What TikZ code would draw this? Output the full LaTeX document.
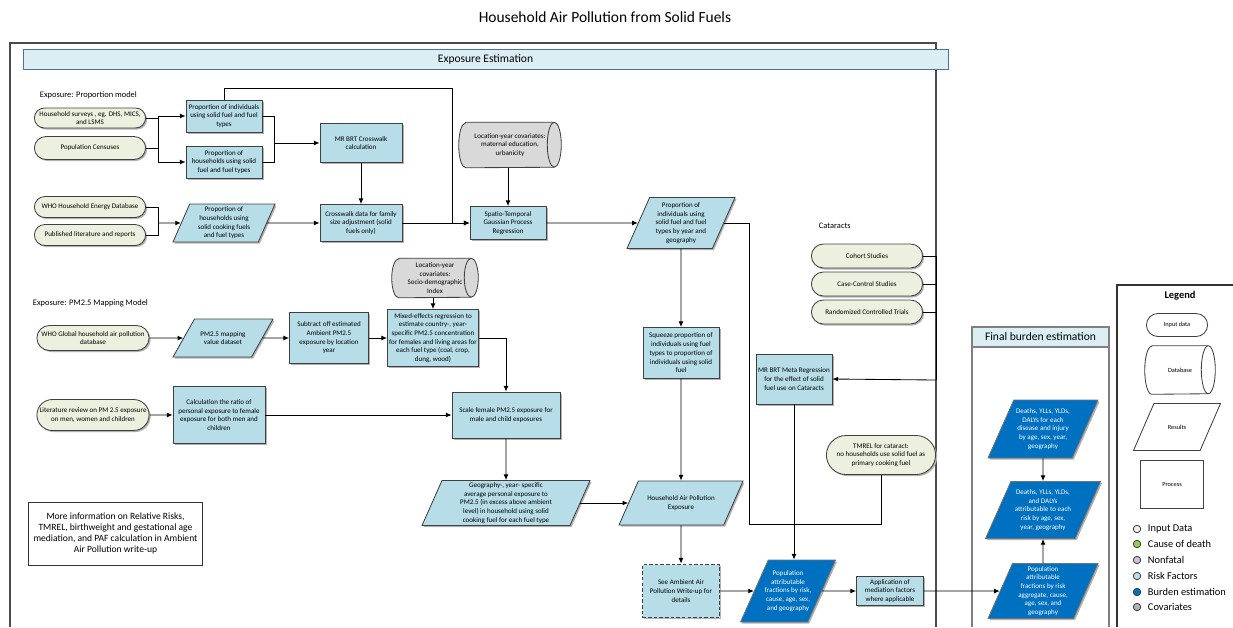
\documentclass[tikz,border=0pt]{standalone}
\usepackage{fontspec}
\setmainfont{Carlito}
\usetikzlibrary{arrows.meta,shapes.geometric,shapes.misc,shadows,backgrounds}

\definecolor{inpc}{HTML}{EBF1DE}
\definecolor{procc}{HTML}{B7DEE8}
\definecolor{burdc}{HTML}{0070C0}
\definecolor{covc}{HTML}{D9D9D9}
\definecolor{hdrc}{HTML}{DAEEF3}
\definecolor{hdrl}{HTML}{4F6F9F}
\definecolor{causec}{HTML}{92D050}
\definecolor{nfc}{HTML}{CCC0DA}
\newdimen\px \px=0.025cm
\newcommand{\boxfont}{\fontsize{5}{6.2}\selectfont}
% drum outline round a node: #1 node, #2 half height, #3 fill
\newcommand{\drum}[3]{%
  \path[draw=black!75,line width=0.6pt,fill=#3]
    ([xshift=0.175cm]#1.north west) -- ([xshift=-0.175cm]#1.north east)
    arc[start angle=90,end angle=-90,x radius=0.175cm,y radius=#2]
    -- ([xshift=0.175cm]#1.south west)
    arc[start angle=270,end angle=90,x radius=0.175cm,y radius=#2] -- cycle;
  \path[draw=black!75,line width=0.6pt]
    ([xshift=-0.175cm]#1.north east) arc[start angle=90,end angle=270,x radius=0.175cm,y radius=#2];}

\begin{document}
\begin{tikzpicture}[x=0.025cm,y=-0.025cm,>={Latex[length=4pt,width=3.4pt]}]
\tikzset{bw/.style={minimum width=#1*\px},bh/.style={minimum height=#1*\px},ys/.style={inner ysep=#1}}
\tikzstyle{sdw}=[drop shadow={shadow xshift=1.1pt,shadow yshift=-1.1pt,fill=black!30,opacity=1}]
\tikzstyle{bx}=[draw=black!75,line width=0.6pt,inner sep=1pt,align=center,font=\boxfont]
\tikzstyle{inp}=[bx,rounded rectangle,fill=inpc,sdw]
\tikzstyle{proc}=[bx,rectangle,fill=procc,sdw]
\tikzstyle{pshape}=[trapezium,trapezium left angle=65,trapezium right angle=115,trapezium stretches body,inner xsep=-10pt]
\tikzstyle{para}=[bx,pshape,fill=procc,sdw]
\tikzstyle{burd}=[bx,pshape,fill=burdc,text=white,draw=black!55,sdw]
\tikzstyle{dbt}=[rectangle,inner sep=1pt,align=center,font=\boxfont]
\tikzstyle{ln}=[line width=0.6pt]
\tikzstyle{lc}=[draw=black!75,line width=0.6pt,circle,minimum size=7.5*\px,inner sep=0pt]
\tikzstyle{lt}=[anchor=west,font=\fontsize{7.4}{8.4}\selectfont]
\useasboundingbox (0,0) rectangle (1233,627);

% title and frames
\draw (605,17) node (title) [font=\fontsize{11}{13}\selectfont] {Household Air Pollution from Solid Fuels};
\draw [line width=1pt,black!70] (10,627) -- (10,43) -- (936,43) -- (936,627);
\draw (485.5,59.5) node (hdr) [draw=hdrl,line width=0.6pt,fill=hdrc,bw=925,bh=17,font=\fontsize{8.2}{9.5}\selectfont] {Exposure Estimation};
\draw [line width=1pt,black!50] (972,627) -- (972,327) -- (1109,327) -- (1109,627);
\draw (1040.5,337) node (fbe) [draw=black!50,line width=0.8pt,fill=hdrc,bw=137,bh=20,font=\fontsize{8.2}{9.5}\selectfont] {Final burden estimation};
\draw [line width=0.8pt,black!80] (1117,627) -- (1117,285) -- (1233,285);

% proportion model
\draw (35,95) node (lblA) [anchor=west,font=\fontsize{6}{7}\selectfont] {Exposure: Proportion model};
\draw (90,118) node (hs) [inp,bw=114,bh=20] {Household surveys , eg. DHS, MICS,\\ and LSMS};
\draw (90,148) node (pc) [inp,bw=114,bh=23] {Population Censuses};
\draw (90,207) node (hed) [inp,bw=114,bh=21] {WHO Household Energy Database};
\draw (90,235) node (pl) [inp,bw=114,bh=21] {Published literature and reports};
\draw (224,116) node (pi) [proc,bw=76,bh=32] {Proportion of individuals\\ using solid fuel and fuel\\ types};
\draw (224,162) node (ph) [proc,bw=76,bh=32] {Proportion of\\ households using solid\\ fuel and fuel types};
\draw (361,143) node (mrbrt) [proc,bw=82,bh=39] {MR BRT Crosswalk\\ calculation};
\draw (224,223) node (phc) [para,bw=102,bh=38,ys=1.3pt] {Proportion of\\ households using\\ solid cooking fuels\\ and fuel types};
\draw (361,223) node (cw) [proc,bw=82,bh=37] {Crosswalk data for family\\ size adjustment (solid\\ fuels only)};
\draw (510,145) node (lyc) [dbt,bw=102,bh=45] {Location-year covariates:\\ maternal education,\\ urbanicity};
\draw (508,223) node (stgpr) [proc,bw=76,bh=33] {Spatio-Temporal\\ Gaussian Process\\ Regression};
\draw (681,223) node (piy) [para,bw=108,bh=51,ys=2.7pt] {Proportion of\\ individuals using\\ solid fuel and fuel\\ types by year and\\ geography};
\draw (681,353) node (sq) [proc,bw=76,bh=51] {Squeeze proportion of\\ individuals using fuel\\ types to proportion of\\ individuals using solid\\ fuel};

\coordinate (j1) at (158,140);
\coordinate (j2) at (274,143);
\coordinate (j3) at (158,223);
\coordinate (j4) at (452,88);
\path [draw,ln] (hs.east) -| (j1) ;
\path [draw,ln] (pc.east) -| (j1) ;
\path [draw,ln,->] (j1) |- (pi.west) ;
\path [draw,ln,->] (j1) |- (ph.west) ;
\path [draw,ln] (pi.east) -| (j2) ;
\path [draw,ln] (ph.east) -| (j2) ;
\path [draw,ln,->] (j2) -- (mrbrt.west) ;
\path [draw,ln,->] (mrbrt) -- (cw) ;
\path [draw,ln] (hed.east) -| (j3) ;
\path [draw,ln] (pl.east) -| (j3) ;
\path [draw,ln,->] (j3) -- (phc.west) ;
\path [draw,ln,->] (phc.east) -- (cw.west) ;
\path [draw,ln,->] (pi.north) |- (j4) |- (stgpr.west) ;
\path [draw,ln,->] (cw.east) -- (stgpr.west) ;
\path [draw,ln,->] (lyc.south -| stgpr.north) -- (stgpr.north) ;
\path [draw,ln,->] (stgpr.east) -- (piy.west) ;
\path [draw,ln,->] (piy) -- (sq) ;

% PM2.5 mapping model
\draw (28,303) node (lblB) [anchor=west,font=\fontsize{6}{7}\selectfont] {Exposure: PM2.5 Mapping Model};
\draw (93,338) node (who) [inp,bw=115,bh=25] {WHO Global household air pollution\\ database};
\draw (223,338) node (pm) [para,bw=100,bh=38,ys=7.4pt,trapezium left angle=58,trapezium right angle=122] {PM2.5 mapping\\ value dataset};
\draw (329,338) node (sub) [proc,bw=79,bh=51] {Subtract off estimated\\ Ambient PM2.5\\ exposure by location\\ year};
\draw (435,278) node (lyc2) [dbt,bw=86,bh=39] {Location-year\\ covariates:\\ Socio-demographic\\ Index};
\draw (433,338) node (mix) [proc,bw=91,bh=57] {Mixed-effects regression to\\ estimate country-, year-\\ specific PM2.5 concentration\\ for females and living areas for\\ each fuel type (coal, crop,\\ dung, wood)};
\draw (93,415) node (lit) [inp,bw=115,bh=31] {Literature review on PM 2.5 exposure\\ on men, women and children};
\draw (219,415) node (calc) [proc,bw=92,bh=57] {Calculation the ratio of\\ personal exposure to female\\ exposure for both men and\\ children};
\draw (506,415) node (scale) [proc,bw=108,bh=46] {Scale female PM2.5 exposure for\\ male and child exposures};
\draw (506,503) node (geo) [para,bw=168,bh=45,ys=0.7pt] {Geography-, year- specific\\ average personal exposure to\\ PM2.5 (in excess above ambient\\ level) in household using solid\\ cooking fuel for each fuel type};
\draw (681,503) node (hap) [para,bw=124,bh=44,ys=9.5pt] {Household Air Pollution\\ Exposure};
\draw (681,591) node (see) [proc,bw=77,bh=53,line width=1.3pt,dash pattern=on 2.5pt off 1.5pt] {See Ambient Air\\ Pollution Write-up for\\ details};

\path [draw,ln,->] (who) -- (pm) ;
\path [draw,ln,->] (pm) -- (sub) ;
\path [draw,ln,->] (sub) -- (mix) ;
\path [draw,ln,->] (lyc2.south -| mix.north) -- (mix.north) ;
\path [draw,ln,->] (mix.east) -| (scale.north) ;
\path [draw,ln,->] (lit) -- (calc) ;
\path [draw,ln,->] (calc) -- (scale) ;
\path [draw,ln,->] (scale) -- (geo) ;
\path [draw,ln,->] (geo.east) -- (hap.west) ;
\path [draw,ln,->] (sq) -- (hap) ;
\path [draw,ln,->] (hap) -- (see) ;

% cataracts and PAF
\draw (814,226) node (lblC) [anchor=west,font=\fontsize{6}{7}\selectfont] {Cataracts};
\draw (867,256) node (coh) [inp,bw=114,bh=24] {Cohort Studies};
\draw (867,284) node (cc) [inp,bw=114,bh=24] {Case-Control Studies};
\draw (867,312) node (rct) [inp,bw=114,bh=24] {Randomized Controlled Trials};
\draw (794,379) node (meta) [proc,bw=76,bh=50] {MR BRT Meta Regression\\ for the effect of solid\\ fuel use on Cataracts};
\draw (881,455) node (tmrel) [inp,bw=112,bh=39] {TMREL for cataract:\\ no households use solid fuel as\\ primary cooking fuel};
\draw (788,591) node (paf) [burd,bw=95,bh=62,ys=6.6pt] {Population\\ attributable\\ fractions by risk,\\ cause, age, sex,\\ and geography};
\draw (890,591) node (app) [proc,bw=67,bh=29] {Application of\\ mediation factors\\ where applicable};

\coordinate (j5) at (749,524);
\coordinate (j6) at (936,380);
\path [draw,ln] (piy.east) -| (j5) -| (tmrel.south) ;
\path [draw,ln] (coh.east) -| (j6) ;
\path [draw,ln] (cc.east) -| (j6) ;
\path [draw,ln] (rct.east) -| (j6) ;
\path [draw,ln,->] (j6) -- (meta.east) ;
\path [draw,ln,->] (meta.south) -- (meta.south |- paf.north) ;
\path [draw,ln,->] (see.east) -- (paf.west) ;
\path [draw,ln,->] (paf.east) -- (app.west) ;

% final burden
\draw (1043,429) node (d1) [burd,bw=110,bh=58,ys=5.1pt] {Deaths, YLLs, YLDs,\\ DALYs for each\\ disease and injury\\ by age, sex, year,\\ geography};
\draw (1043,510) node (d2) [burd,bw=115,bh=57,ys=4.8pt] {Deaths, YLLs, YLDs,\\ and DALYs\\ attributable to each\\ risk by age, sex,\\ year, geography};
\draw (1043,591) node (paf2) [burd,bw=110,bh=55,ys=1pt] {Population\\ attributable\\ fractions by risk\\ aggregate, cause,\\ age, sex, and\\ geography};
\path [draw,ln,->] (app.east) -- (paf2.west) ;
\path [draw,ln,->] (d1) -- (d2) ;
\path [draw,ln,->] (paf2) -- (d2) ;

% note
\draw (115.5,533.5) node (more) [draw=black!80,line width=0.6pt,bw=173,bh=63,align=center,font=\fontsize{6.8}{8}\selectfont] {More information on Relative Risks,\\ TMREL, birthweight and gestational age\\ mediation, and PAF calculation in Ambient\\ Air Pollution write-up};

% legend
\draw (1180,296) node (leg) [font=\fontsize{7.4}{8.4}\selectfont\bfseries] {Legend};
\draw (1177,325) node (lin) [bx,rounded rectangle,bw=64,bh=23,font=\fontsize{4.5}{5.5}\selectfont] {Input data};
\draw (1180,370) node (ldb) [dbt,bw=70,bh=48,font=\fontsize{4.5}{5.5}\selectfont] {Database};
\draw (1177,427) node (lres) [bx,pshape,bw=87,bh=47,ys=14pt,font=\fontsize{4.5}{5.5}\selectfont] {Results};
\draw (1172,484) node (lproc) [bx,bw=63,bh=48,font=\fontsize{4.5}{5.5}\selectfont] {Process};
\draw (1137,529) node (c1) [lc,fill=inpc] {};
\draw (1137,544) node (c2) [lc,fill=causec] {};
\draw (1137,560) node (c3) [lc,fill=nfc] {};
\draw (1137,576) node (c4) [lc,fill=procc] {};
\draw (1137,592) node (c5) [lc,fill=burdc] {};
\draw (1137,607) node (c6) [lc,fill=black!30] {};
\draw (1143,529) node (t1) [lt] {Input Data};
\draw (1143,544) node (t2) [lt] {Cause of death};
\draw (1143,560) node (t3) [lt] {Nonfatal};
\draw (1143,576) node (t4) [lt] {Risk Factors};
\draw (1143,592) node (t5) [lt] {Burden estimation};
\draw (1143,607) node (t6) [lt] {Covariates};

% drums behind the database nodes
\begin{scope}[on background layer]
\drum{lyc}{0.5625cm}{covc}
\drum{lyc2}{0.4875cm}{covc}
\drum{ldb}{0.6cm}{white}
\end{scope}
\end{tikzpicture}
\end{document}
